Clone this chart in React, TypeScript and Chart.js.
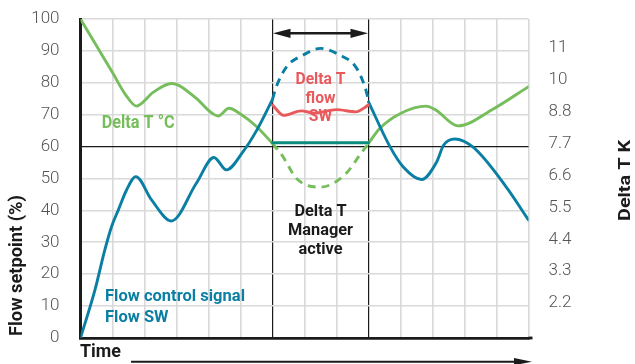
import React, { useEffect, useRef } from 'react';
import { Chart, registerables } from 'chart.js';

Chart.register(...registerables);

// ---------- data ----------
const xMin = 0;
const xMax = 14;
const managerStart = 6;
const managerEnd = 9;
const referenceLevel = 60;

const deltaTBefore: [number, number][] = [
  [0, 100], [0.5, 91.6], [1, 83.2], [1.4, 76.4], [1.75, 72.7], [2.27, 77], [2.84, 79.8],
  [3.62, 75.1], [4.04, 71], [4.3, 69.6], [4.64, 72], [5, 70.2], [5.5, 66.3], [6, 61],
];
const deltaTManaged: [number, number][] = [
  [6, 61], [6.33, 56.8], [6.75, 50], [7.5, 47.3], [8.3, 51.6], [8.73, 57.4], [9, 61],
];
const deltaTAfter: [number, number][] = [
  [9, 61], [9.35, 65.7], [10, 70.4], [10.8, 72.7], [11.1, 71.5], [11.8, 66.5], [12.9, 71.8], [14, 78.8],
];
const flowBefore: [number, number][] = [
  [0, 0], [0.45, 15], [0.76, 27.6], [0.97, 34.9], [1.18, 40.1], [1.44, 46.4], [1.73, 50.6], [2.22, 43.3],
  [2.84, 36.7], [3.62, 48.5], [4.17, 56.6], [4.56, 52.7], [5.08, 58.4], [5.5, 65], [6, 74.8],
];
const flowUnmanaged: [number, number][] = [
  [6, 74.8], [6.12, 78.8], [6.44, 85], [6.96, 88.7], [7.5, 90.8], [8.1, 88.7], [8.6, 85], [8.88, 79], [9, 74.6],
];
const flowAfter: [number, number][] = [
  [9, 74], [9.67, 60], [10.08, 53.7], [10.66, 49.7], [11.12, 55], [11.35, 60.5], [11.7, 62.4],
  [12.27, 59.8], [13.3, 47.4], [14, 37],
];
const deltaTFlowSW: [number, number][] = [
  [6, 73], [6.35, 69.8], [6.9, 71.2], [7.3, 70.5], [8, 71.6], [8.6, 70.9], [9, 73],
];
const managedFlowSW: [number, number][] = [
  [6, 61.2], [9, 61.2],
];

const rightTickValues = [10, 20, 30, 40, 50, 60, 70, 80, 90];
const rightTickLabels = ['2.2', '3.3', '4.4', '5.5', '6.6', '7.7', '8.8', '10', '11'];

const leftAxisTitle = 'Flow setpoint (%)';
const rightAxisTitle = 'Delta T K';
const timeLabel = 'Time';
const deltaTLabel = 'Delta T °C';
const redLabel = ['Delta T', 'flow', 'SW'];
const managerLabel = ['Delta T', 'Manager', 'active'];
const flowLabel = ['Flow control signal', 'Flow SW'];

// ---------- styles ----------
const BLUE = '#0a7fa3';
const GREEN = '#76bd5c';
const RED = '#e9595c';
const TEAL = '#0b8c80';
const GRID = '#d9d9d9';
const INK = '#1b1b1b';

const toPts = (arr: [number, number][]) => arr.map(([x, y]) => ({ x, y }));

function fitLines(
  ctx: CanvasRenderingContext2D,
  lines: string[],
  x: number,
  y0: number,
  lineH: number,
  font: string,
  color: string,
  refIndex: number,
  refWidth: number,
  align: CanvasTextAlign,
) {
  ctx.save();
  ctx.font = font;
  ctx.fillStyle = color;
  ctx.textBaseline = 'middle';
  ctx.textAlign = align;
  const s = refWidth / ctx.measureText(lines[refIndex]).width;
  lines.forEach((t, i) => {
    ctx.save();
    ctx.translate(x, y0 + i * lineH);
    ctx.scale(s, 1);
    ctx.fillText(t, 0, 0);
    ctx.restore();
  });
  ctx.restore();
}

function fitRotated(
  ctx: CanvasRenderingContext2D,
  text: string,
  x: number,
  y: number,
  font: string,
  length: number,
  align: CanvasTextAlign,
) {
  ctx.save();
  ctx.font = font;
  ctx.fillStyle = INK;
  ctx.textBaseline = 'middle';
  ctx.textAlign = align;
  const s = length / ctx.measureText(text).width;
  ctx.translate(x, y);
  ctx.rotate(-Math.PI / 2);
  ctx.scale(s, 1);
  ctx.fillText(text, 0, 0);
  ctx.restore();
}

const overlayPlugin = {
  id: 'overlay',
  afterDraw(chart: any) {
    const ctx: CanvasRenderingContext2D = chart.ctx;
    const xs = chart.scales.x;
    const area = chart.chartArea;
    const x6 = xs.getPixelForValue(managerStart);
    const x9 = xs.getPixelForValue(managerEnd);

    // axis extension on the right
    ctx.save();
    ctx.fillStyle = INK;
    ctx.fillRect(area.right, area.bottom - 1.4, 4, 2.8);
    ctx.restore();

    // double arrow on top
    ctx.save();
    ctx.strokeStyle = INK;
    ctx.fillStyle = INK;
    ctx.lineWidth = 2.5;
    const ay = 33.3;
    ctx.beginPath();
    ctx.moveTo(x6 + 10, ay);
    ctx.lineTo(x9 - 10, ay);
    ctx.stroke();
    ctx.beginPath();
    ctx.moveTo(x6 + 0.5, ay);
    ctx.lineTo(x6 + 18, ay - 4.6);
    ctx.lineTo(x6 + 18, ay + 4.6);
    ctx.closePath();
    ctx.fill();
    ctx.beginPath();
    ctx.moveTo(x9 - 0.5, ay);
    ctx.lineTo(x9 - 18, ay - 4.6);
    ctx.lineTo(x9 - 18, ay + 4.6);
    ctx.closePath();
    ctx.fill();

    // time arrow
    const ty = 361.7;
    ctx.lineWidth = 2;
    ctx.beginPath();
    ctx.moveTo(131, ty);
    ctx.lineTo(520, ty);
    ctx.stroke();
    ctx.beginPath();
    ctx.moveTo(532, ty);
    ctx.lineTo(514, ty - 3.6);
    ctx.lineTo(514, ty + 3.6);
    ctx.closePath();
    ctx.fill();
    ctx.restore();

    const mid = (x6 + x9) / 2;
    fitLines(ctx, [timeLabel], area.left - 0.5, 352, 0, 'bold 18px Roboto', INK, 0, 41, 'left');
    fitLines(ctx, [deltaTLabel], 101.7, 123, 0, 'bold 18px Roboto', GREEN, 0, 73, 'left');
    fitLines(ctx, redLabel, mid, 80, 18.5, 'bold 17px Roboto', RED, 0, 50, 'center');
    fitLines(ctx, managerLabel, mid, 212, 19, 'bold 17px Roboto', INK, 1, 65, 'center');
    fitLines(ctx, flowLabel, 105, 297, 21, 'bold 17px Roboto', BLUE, 0, 140, 'left');

    fitRotated(ctx, leftAxisTitle, 17.5, 336, 'bold 18px Roboto', 141, 'left');
    fitRotated(ctx, rightAxisTitle, 626, 180.5, 'bold 17px Roboto', 81, 'center');
  },
};

export default function App() {
  const ref = useRef<HTMLCanvasElement | null>(null);

  useEffect(() => {
    if (!ref.current) return;
    const solid = (data: [number, number][], color: string, width = 2.9) => ({
      data: toPts(data),
      borderColor: color,
      backgroundColor: color,
      borderWidth: width,
      pointRadius: 0,
      fill: false,
      cubicInterpolationMode: 'monotone' as const,
      borderCapStyle: 'round' as const,
    });
    const dashed = (data: [number, number][], color: string) => ({
      ...solid(data, color),
      borderDash: [8, 6],
      borderCapStyle: 'butt' as const,
    });

    const noPad = (s: any) => {
      s.paddingTop = 0;
      s.paddingBottom = 0;
    };

    const chart = new Chart(ref.current, {
      type: 'line',
      data: {
        datasets: [
          solid(deltaTFlowSW, RED),
          solid(managedFlowSW, TEAL),
          solid(flowBefore, BLUE),
          dashed(flowUnmanaged, BLUE),
          solid(flowAfter, BLUE),
          solid(deltaTBefore, GREEN),
          dashed(deltaTManaged, GREEN),
          solid(deltaTAfter, GREEN),
        ] as any,
      },
      options: {
        animation: false,
        responsive: false,
        maintainAspectRatio: false,
        devicePixelRatio: 1,
        layout: { padding: { top: 19, left: 0, right: 0, bottom: 0 } },
        plugins: { legend: { display: false }, tooltip: { enabled: false } },
        elements: { point: { radius: 0 } },
        scales: {
          x: {
            type: 'linear',
            min: xMin,
            max: xMax,
            ticks: { stepSize: 1, display: false },
            grid: {
              drawTicks: false,
              color: (c: any) =>
                c.tick && (c.tick.value === managerStart || c.tick.value === managerEnd) ? INK : GRID,
              lineWidth: (c: any) =>
                c.tick && (c.tick.value === managerStart || c.tick.value === managerEnd) ? 1.2 : 1.6,
            },
            border: { display: true, color: INK, width: 2.8 },
            afterFit: (s: any) => {
              s.height = 26;
              s.paddingLeft = 0;
              s.paddingRight = 0;
            },
          },
          y: {
            position: 'left',
            min: 0,
            max: 100,
            ticks: {
              stepSize: 10,
              padding: 21,
              color: '#555555',
              font: { family: 'Roboto', size: 17, weight: '300' as any },
            },
            grid: {
              drawTicks: false,
              color: (c: any) => (c.tick && c.tick.value === referenceLevel ? INK : GRID),
              lineWidth: (c: any) => (c.tick && c.tick.value === referenceLevel ? 1.2 : 1.6),
            },
            border: { display: true, color: INK, width: 3 },
            afterFit: (s: any) => {
              s.width = 80.5;
              noPad(s);
            },
          },
          y2: {
            position: 'right',
            min: 0,
            max: 100,
            afterBuildTicks: (s: any) => {
              s.ticks = rightTickValues.map((v) => ({ value: v }));
            },
            ticks: {
              padding: 20,
              labelOffset: -3,
              color: '#555555',
              font: { family: 'Roboto', size: 17, weight: '300' as any },
              callback: (v: any) => {
                const i = rightTickValues.indexOf(Number(v));
                return i >= 0 ? rightTickLabels[i] : '';
              },
            },
            grid: { display: false, drawTicks: false },
            border: { display: false },
            afterFit: (s: any) => {
              s.width = 635 - 528.5;
              noPad(s);
            },
          },
        },
      } as any,
      plugins: [overlayPlugin],
    });
    return () => chart.destroy();
  }, []);

  return (
    <div style={{ position: 'absolute', left: 0, top: 0, width: 635, height: 364 }}>
      <canvas ref={ref} width={635} height={364} style={{ display: 'block', width: 635, height: 364 }} />
    </div>
  );
}
